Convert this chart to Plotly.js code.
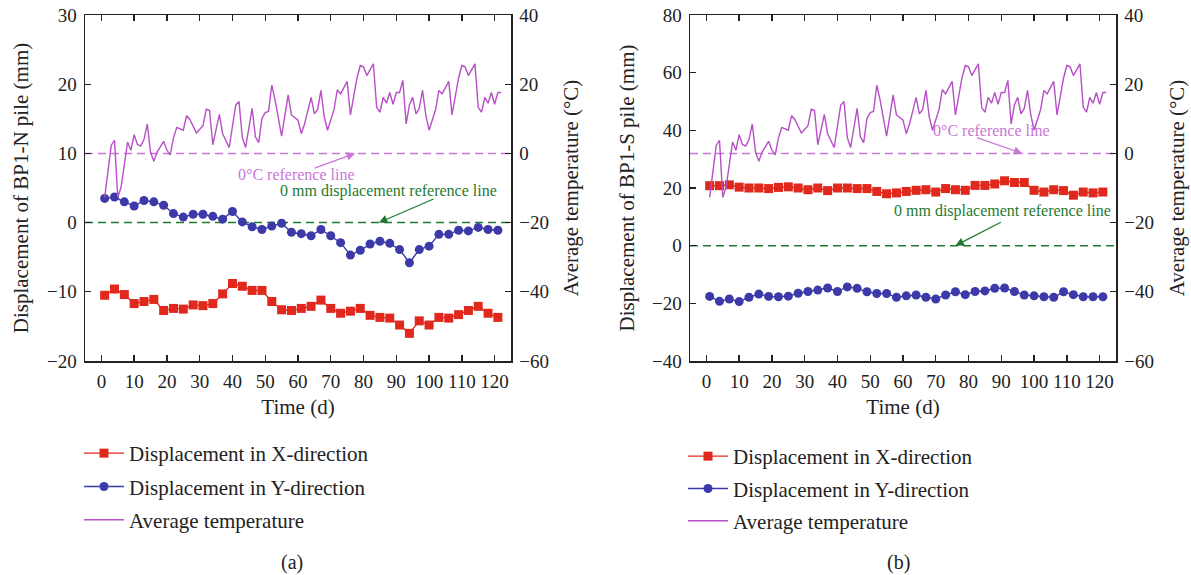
<!DOCTYPE html>
<html>
<head>
<meta charset="utf-8">
<script src="https://cdn.plot.ly/plotly-3.0.1.min.js"></script>
<style>html,body{margin:0;padding:0;background:#fff;}#chart{width:1191px;height:575px;}</style>
</head>
<body>
<div id="chart"></div>
<script>
// ---- data ----
const dispDays = [1,4,7,10,13,16,19,22,25,28,31,34,37,40,43,46,49,52,55,58,61,64,67,70,73,76,79,82,85,88,91,94,97,100,103,106,109,112,115,118,121];

// BP1-N pile (panel a), mm
const nX = [-10.5,-9.6,-10.4,-11.7,-11.4,-11.1,-12.7,-12.4,-12.5,-11.9,
            -12.0,-11.7,-10.3,-8.8,-9.2,-9.8,-9.8,-11.4,-12.6,-12.7,
            -12.4,-12.1,-11.2,-12.4,-13.1,-12.8,-12.4,-13.4,-13.7,-13.8,
            -14.8,-16.0,-14.2,-14.8,-13.7,-13.8,-13.3,-12.7,-12.1,-13.1,-13.7];
const nY = [3.5,3.7,3.0,2.4,3.2,3.0,2.5,1.3,0.8,1.2,
            1.2,0.9,0.5,1.6,0.1,-0.6,-1.0,-0.5,-0.1,-1.4,
            -1.6,-1.9,-1.0,-1.9,-2.9,-4.7,-4.0,-3.1,-2.7,-3.0,
            -3.9,-5.8,-3.9,-3.4,-1.7,-1.7,-1.1,-1.2,-0.7,-1.0,-1.1];

// BP1-S pile (panel b), mm
const sX = [20.8,20.8,21.1,20.3,20.0,20.0,19.8,20.2,20.4,20.0,
            19.4,20.0,19.1,20.0,20.0,19.8,19.8,18.8,18.0,18.3,
            18.8,19.2,19.4,18.6,19.8,19.4,19.2,20.9,20.9,21.4,
            22.5,21.9,21.9,19.2,18.6,19.4,19.1,17.5,18.6,18.3,18.6];
const sY = [-17.6,-19.3,-18.5,-19.4,-17.9,-16.8,-17.6,-17.7,-17.5,-16.5,
            -15.9,-15.4,-14.7,-15.9,-14.3,-14.8,-16.0,-16.6,-16.6,-17.9,
            -17.4,-17.1,-17.9,-18.5,-17.1,-16.0,-17.0,-15.9,-15.7,-14.8,
            -14.7,-15.9,-17.1,-17.4,-17.7,-17.9,-16.0,-17.0,-17.7,-17.7,-17.7];

// Average temperature (°C), same in both panels
const tempDays = [1,3,4,5,6,8,9,10,11,12,13,14,15,16,17,19,20,21,22,23,25,26,27,29,31,32,33,34,36,37,39,41,42,43,44,46,47,48,49,50,51,52,53,55,57,58,60,61,62,64,65,66,67,68,69,71,72,73,75,76,78,79,80,81,83,84,85,86,87,88,89,90,91,92,93,94,95,96,97,98,99,100,102,103,104,106,107,109,110,111,112,114,115,116,117,118,119,120,121,122];
const temp = [-12.7,2.3,3.8,-12.7,-9.8,3.3,0.9,5.4,2.6,2.1,4.0,8.5,0.4,-2.3,0.4,3.5,0.9,-0.4,4.5,7.5,6.7,10.9,9.8,5.9,8.0,12.8,12.4,2.5,11.3,5.7,1.7,14.0,15.0,4.6,1.7,13.0,4.8,3.1,10.1,11.8,12.1,19.7,15.5,5.0,16.9,11.1,9.6,5.7,8.5,16.2,11.4,12.7,18.2,10.6,6.7,12.7,18.4,17.2,20.8,11.1,21.8,25.4,25.0,22.5,25.9,13.3,11.9,16.2,14.5,17.6,14.2,17.6,17.6,21.1,8.5,14.0,16.2,11.4,13.0,18.2,11.1,6.7,12.7,18.2,17.2,20.8,11.1,21.8,25.4,25.0,22.5,25.9,13.3,11.9,16.2,14.5,17.6,14.2,17.6,17.6];

const xTicks = [0,10,20,30,40,50,60,70,80,90,100,110,120];
const names = ['Displacement in X-direction','Displacement in Y-direction','Average temperature'];
const panelLabels = ['(a)','(b)'];
const leftTitles = ['Displacement of BP1-N pile (mm)','Displacement of BP1-S pile (mm)'];
const tempTitle = 'Average temperature (°C)';
const timeTitle = 'Time (d)';
const refTemp = '0°C reference line';
const refDisp = '0 mm displacement reference line';

// ---- styles ----
const FONT = 'Liberation Serif, Times New Roman, serif';
const RED = '#e0281c', BLUE = '#3c3aa8', PURPLE = '#b74fc6', PINK = '#c877d6', GREEN = '#1f7a30', AX = '#222';

function mkTraces(xs, ys, xa, ya, ya2, leg) {
  return [
    {x: dispDays, y: xs, xaxis: xa, yaxis: ya, name: names[0], legend: leg, legendgroup: leg+'a',
     mode: 'lines+markers', line: {color: RED, width: 1.4}, marker: {symbol: 'square', size: 9, color: RED}},
    {x: dispDays, y: ys, xaxis: xa, yaxis: ya, name: names[1], legend: leg, legendgroup: leg+'b',
     mode: 'lines+markers', line: {color: BLUE, width: 1.4}, marker: {symbol: 'circle', size: 9, color: BLUE}},
    {x: tempDays, y: temp, xaxis: xa, yaxis: ya2, name: names[2], legend: leg, legendgroup: leg+'c',
     mode: 'lines', line: {color: PURPLE, width: 1.4}}
  ];
}
const data = [].concat(
  mkTraces(nX, nY, 'x', 'y', 'y2', 'legend'),
  mkTraces(sX, sY, 'x2', 'y3', 'y4', 'legend2')
);

const axBase = {showline: true, linecolor: AX, linewidth: 1.5, ticks: 'inside', ticklen: 6, tickwidth: 1.4,
  tickcolor: AX, showgrid: false, zeroline: false, tickfont: {size: 19, family: FONT, color: AX}};
const yDom = [214/575, 560/575];
function xAx(dom, anchor) {
  return Object.assign({}, axBase, {domain: dom, anchor: anchor, range: [-5, 125], tickvals: xTicks,
    mirror: 'ticks', ticklabelstandoff: 3, title: {text: timeTitle, standoff: 8, font: {size: 21, family: FONT, color: AX}}});
}
function yAx(range, dtick, anchor, title, so) {
  return Object.assign({}, axBase, {domain: yDom, anchor: anchor, range: range, dtick: dtick, ticklabelstandoff: 3,
    title: {text: title, standoff: so, font: {size: 21, family: FONT, color: AX}}});
}
function y2Ax(over, anchor, so) {
  return Object.assign({}, axBase, {overlaying: over, side: 'right', anchor: anchor, range: [-60, 40], dtick: 20,
    ticklabelstandoff: 3, title: {text: tempTitle, standoff: so, font: {size: 21, family: FONT, color: AX}}});
}

function hline(xr, yr, color) {
  return {type: 'line', xref: xr + ' domain', x0: 0, x1: 1, yref: yr, y0: 0, y1: 0, layer: 'below',
    line: {color: color, width: 1.5, dash: '8px,5px'}};
}
function txt(xr, yr, x, y, t, color) {
  return {xref: xr, yref: yr, x: x, y: y, text: t, showarrow: false, xanchor: 'center', yanchor: 'middle',
    font: {size: 16, family: FONT, color: color}};
}
function arr(xr, yr, x, y, ax, ay, color) {
  return {xref: xr, yref: yr, x: x, y: y, axref: xr, ayref: yr, ax: ax, ay: ay, text: '', showarrow: true,
    arrowhead: 2, arrowsize: 1.3, arrowwidth: 1.3, arrowcolor: color, standoff: 0, startstandoff: 0};
}

const layout = {
  width: 1191, height: 575, margin: {l: 0, r: 0, t: 0, b: 0},
  paper_bgcolor: '#fff', plot_bgcolor: '#fff',
  font: {family: FONT, size: 18, color: AX},
  xaxis: xAx([85/1191, 511/1191], 'y'),
  yaxis: yAx([-20, 30], 10, 'x', leftTitles[0], 12),
  yaxis2: y2Ax('y', 'x', 15),
  xaxis2: xAx([690/1191, 1116/1191], 'y3'),
  yaxis3: yAx([-40, 80], 20, 'x2', leftTitles[1], 11),
  yaxis4: y2Ax('y3', 'x2', 16),
  legend: {x: 79/1191, xanchor: 'left', y: 1 - 433/575, yanchor: 'top', bgcolor: 'rgba(0,0,0,0)',
    font: {size: 21, family: FONT, color: AX}, itemwidth: 40, tracegroupgap: 3, traceorder: 'grouped'},
  legend2: {x: 683/1191, xanchor: 'left', y: 1 - 436/575, yanchor: 'top', bgcolor: 'rgba(0,0,0,0)',
    font: {size: 21, family: FONT, color: AX}, itemwidth: 40, tracegroupgap: 2, traceorder: 'grouped'},
  shapes: [
    hline('x', 'y2', PINK), hline('x', 'y', GREEN),
    hline('x2', 'y4', PINK), hline('x2', 'y3', GREEN)
  ],
  annotations: [
    txt('x', 'y', 59.4, 7.0, refTemp, PINK),
    arr('x', 'y', 77.4, 10, 64.6, 7.8, PINK),
    txt('x', 'y', 87.5, 4.6, refDisp, GREEN),
    arr('x', 'y', 84.7, 0, 101.8, 3.5, GREEN),
    txt('x2', 'y4', 87.0, 6.5, refTemp, PINK),
    arr('x2', 'y4', 96.4, 0, 82.1, 4.7, PINK),
    txt('x2', 'y3', 90.3, 11.9, refDisp, GREEN),
    arr('x2', 'y3', 76.0, 0, 90.3, 8.4, GREEN),
    {xref: 'paper', yref: 'paper', x: 292/1191, y: 1 - 562/575, xanchor: 'center', yanchor: 'middle',
     text: panelLabels[0], showarrow: false, font: {size: 20, family: FONT, color: AX}},
    {xref: 'paper', yref: 'paper', x: 898/1191, y: 1 - 562/575, xanchor: 'center', yanchor: 'middle',
     text: panelLabels[1], showarrow: false, font: {size: 20, family: FONT, color: AX}}
  ]
};

Plotly.newPlot('chart', data, layout, {displayModeBar: false, staticPlot: true});
</script>
</body>
</html>
